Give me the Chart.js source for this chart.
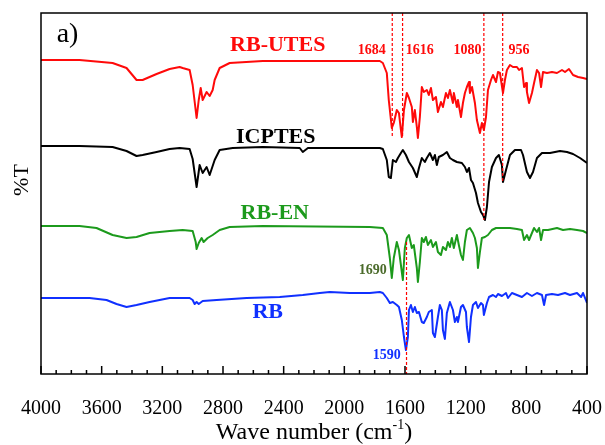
<!DOCTYPE html>
<html lang="en">

<head>
    <meta charset="UTF-8">
    <title>FTIR spectra</title>
    <style>
        body { margin: 0; background: #fff; }
    </style>
</head>

<body>
    <canvas id="ftir" width="605" height="445"></canvas>

    <script src="https://cdn.jsdelivr.net/npm/chart.js"></script>
    <script>
        // wave numbers (cm-1) and offset transmittance (a.u.)
        const rbutesWn = [4000, 3746, 3528, 3436, 3370, 3330, 3238, 3152, 3086, 3066, 3020, 3000, 2974, 2960, 2947, 2934, 2908, 2888, 2868, 2855, 2822, 2756, 2538, 2294, 1832, 1766, 1746, 1720, 1707, 1687, 1674, 1654, 1640, 1627, 1621, 1607, 1588, 1574, 1555, 1548, 1535, 1522, 1515, 1502, 1489, 1476, 1456, 1443, 1429, 1416, 1396, 1383, 1363, 1350, 1330, 1317, 1304, 1284, 1278, 1258, 1251, 1231, 1218, 1205, 1192, 1178, 1172, 1158, 1139, 1126, 1106, 1093, 1080, 1066, 1053, 1033, 1020, 1000, 987, 974, 954, 941, 928, 908, 888, 862, 848, 829, 815, 802, 796, 782, 763, 749, 730, 716, 703, 690, 664, 631, 598, 565, 545, 519, 492, 459, 426, 400];
        const rbutesT = [314, 314, 311, 306, 294, 294, 300, 305, 307, 306, 304, 289, 256, 274, 286, 274, 282, 278, 284, 294, 306, 311, 313, 313, 313, 313, 311, 301, 274, 246, 251, 264, 261, 244, 237, 264, 281, 276, 267, 252, 264, 247, 236, 257, 287, 282, 284, 279, 286, 274, 277, 262, 272, 267, 281, 276, 284, 271, 281, 267, 274, 257, 271, 281, 287, 292, 281, 287, 271, 254, 241, 251, 244, 257, 284, 294, 299, 292, 302, 301, 281, 294, 304, 309, 307, 307, 304, 306, 287, 291, 282, 271, 281, 291, 304, 301, 287, 302, 301, 302, 301, 304, 302, 305, 299, 297, 296, 295];

        const icptesWn = [4000, 3746, 3528, 3436, 3370, 3330, 3238, 3152, 3086, 3020, 3000, 2974, 2954, 2934, 2908, 2888, 2855, 2822, 2736, 2538, 2294, 2274, 2240, 1832, 1766, 1746, 1720, 1707, 1693, 1680, 1660, 1647, 1627, 1614, 1594, 1574, 1548, 1522, 1508, 1489, 1469, 1456, 1436, 1416, 1403, 1390, 1377, 1350, 1324, 1304, 1284, 1258, 1225, 1205, 1192, 1178, 1165, 1152, 1132, 1119, 1099, 1086, 1073, 1060, 1046, 1027, 1000, 981, 961, 954, 934, 908, 875, 835, 822, 796, 776, 756, 730, 697, 644, 578, 532, 492, 446, 400];
        const icptesT = [228, 228, 227, 223, 218, 219, 222, 225, 226, 225, 215, 187, 209, 201, 207, 199, 214, 224, 226, 227, 226, 222, 226, 226, 226, 225, 214, 197, 196, 214, 212, 216, 221, 224, 219, 212, 206, 197, 206, 216, 212, 216, 221, 214, 219, 209, 217, 219, 222, 216, 214, 212, 211, 207, 202, 206, 194, 191, 181, 171, 162, 159, 154, 167, 192, 207, 216, 219, 209, 192, 204, 219, 224, 224, 219, 202, 196, 202, 216, 221, 221, 223, 222, 220, 216, 211];

        const rbenWn = [4000, 3746, 3634, 3528, 3436, 3370, 3284, 3152, 3066, 3000, 2980, 2974, 2960, 2941, 2928, 2901, 2868, 2822, 2756, 2538, 1832, 1746, 1720, 1700, 1687, 1674, 1654, 1640, 1627, 1614, 1601, 1588, 1574, 1555, 1542, 1522, 1515, 1502, 1489, 1476, 1462, 1449, 1429, 1416, 1396, 1383, 1363, 1350, 1330, 1317, 1304, 1291, 1278, 1258, 1245, 1231, 1218, 1205, 1192, 1172, 1152, 1139, 1126, 1119, 1106, 1093, 1073, 1053, 1027, 1000, 961, 908, 862, 829, 815, 796, 782, 763, 749, 730, 716, 703, 690, 657, 598, 558, 512, 466, 426, 400];
        const rbenT = [148, 148, 146, 139, 136, 137, 141, 143, 144, 143, 132, 125, 131, 136, 132, 136, 139, 144, 147, 148, 147, 146, 139, 116, 96, 116, 132, 124, 109, 94, 126, 136, 139, 126, 129, 106, 92, 112, 136, 132, 137, 129, 134, 127, 132, 122, 119, 127, 124, 132, 127, 136, 126, 139, 129, 119, 114, 132, 144, 146, 141, 136, 126, 106, 122, 136, 137, 139, 144, 146, 146, 146, 145, 144, 134, 139, 134, 141, 146, 142, 146, 134, 144, 144, 146, 144, 145, 144, 143, 141];

        const rbWn = [4000, 3680, 3568, 3502, 3436, 3370, 3284, 3152, 3020, 3000, 2987, 2974, 2960, 2934, 2842, 2644, 2426, 2274, 2162, 2096, 1964, 1832, 1766, 1746, 1720, 1700, 1680, 1654, 1640, 1621, 1607, 1594, 1581, 1574, 1561, 1548, 1535, 1522, 1508, 1489, 1476, 1456, 1443, 1423, 1416, 1403, 1383, 1370, 1357, 1350, 1337, 1324, 1304, 1284, 1271, 1258, 1251, 1231, 1218, 1198, 1192, 1178, 1165, 1152, 1132, 1119, 1099, 1086, 1080, 1060, 1046, 1020, 1000, 987, 961, 934, 921, 895, 862, 829, 796, 763, 730, 697, 683, 670, 631, 591, 545, 512, 466, 439, 426, 400];
        const rbT = [76, 76, 74, 70, 67, 69, 72, 76, 76, 74, 70, 72, 70, 73, 74, 76, 77, 79, 81, 82, 81, 81, 82, 81, 76, 71, 72, 69, 67, 54, 37, 24, 37, 64, 69, 62, 67, 61, 62, 52, 51, 57, 62, 64, 41, 37, 57, 69, 64, 44, 35, 61, 72, 64, 52, 57, 52, 67, 69, 62, 47, 32, 57, 69, 72, 66, 71, 69, 59, 71, 77, 79, 77, 80, 78, 81, 76, 81, 79, 77, 81, 78, 81, 79, 69, 79, 80, 79, 81, 79, 81, 77, 81, 71];

        // marked bands: wave number, dashed line from / to (a.u.)
        const bandWn = [1684, 1616, 1080, 956, 1590];
        const bandFrom = [361, 361, 361, 361, 132];
        const bandTo = [237, 237, 154, 192, 0];

        const serif = '"Liberation Serif", "Times New Roman", serif';

        function pts(wn, t) {
            return wn.map((w, i) => ({ x: w, y: t[i] }));
        }

        const traces = [
            { label: 'RB-UTES', data: pts(rbutesWn, rbutesT), borderColor: '#ff0a0a', order: 1 },
            { label: 'ICPTES', data: pts(icptesWn, icptesT), borderColor: '#000000', order: 1 },
            { label: 'RB-EN', data: pts(rbenWn, rbenT), borderColor: '#1c9a1c', order: 1 },
            { label: 'RB', data: pts(rbWn, rbT), borderColor: '#1030ff', order: 1 }
        ];
        // dashed marker lines go on top of the spectra (lower order)
        const bands = bandWn.map((w, i) => ({
            label: 'band ' + w,
            data: [{ x: w, y: bandFrom[i] }, { x: w, y: bandTo[i] }],
            borderColor: '#ff0000',
            borderWidth: 1.2,
            borderDash: [3, 2],
            order: 0
        }));

        // text labels (placed in data coordinates)
        const notes = [
            { text: 'a)', x: 3825, y: 339, color: '#000', font: 'normal 28px ' + serif },
            { text: 'RB-UTES', x: 2439, y: 329, color: '#ff0a0a', font: 'bold 22px ' + serif },
            { text: 'ICPTES', x: 2452, y: 237, color: '#000', font: 'bold 22px ' + serif },
            { text: 'RB-EN', x: 2459, y: 161, color: '#1c9a1c', font: 'bold 22px ' + serif },
            { text: 'RB', x: 2505, y: 62, color: '#1030ff', font: 'bold 22px ' + serif },
            { text: '1684', x: 1819, y: 324, color: '#ff0a0a', font: 'bold 14px ' + serif },
            { text: '1616', x: 1502, y: 324, color: '#ff0a0a', font: 'bold 14px ' + serif },
            { text: '1080', x: 1188, y: 324, color: '#ff0a0a', font: 'bold 14px ' + serif },
            { text: '956', x: 849, y: 324, color: '#ff0a0a', font: 'bold 14px ' + serif },
            { text: '1690', x: 1812, y: 104, color: '#4b6b2b', font: 'bold 14px ' + serif },
            { text: '1590', x: 1720, y: 19, color: '#1030ff', font: 'bold 14px ' + serif }
        ];

        // frame, inward ticks, texts, axis titles
        const decor = {
            id: 'decor',
            afterDraw(chart) {
                const c = chart.ctx;
                const a = chart.chartArea;
                const xs = chart.scales.x;
                const ys = chart.scales.y;
                c.save();
                c.strokeStyle = '#000';
                c.lineWidth = 1.5;
                c.strokeRect(a.left, a.top, a.right - a.left, a.bottom - a.top);
                c.beginPath();
                for (let w = 400; w <= 4000; w += 100) {
                    const px = xs.getPixelForValue(w);
                    const len = w % 400 === 0 ? 8 : 4;
                    c.moveTo(px, a.bottom);
                    c.lineTo(px, a.bottom - len);
                }
                c.stroke();

                c.textAlign = 'center';
                c.textBaseline = 'middle';
                notes.forEach(n => {
                    c.font = n.font;
                    c.fillStyle = n.color;
                    c.fillText(n.text, xs.getPixelForValue(n.x), ys.getPixelForValue(n.y));
                });

                // x axis title with superscript
                c.fillStyle = '#000';
                const main = 'Wave number (cm';
                const sup = '-1';
                const end = ')';
                c.font = 'normal 24px ' + serif;
                const wMain = c.measureText(main).width;
                const wEnd = c.measureText(end).width;
                c.font = 'normal 14px ' + serif;
                const wSup = c.measureText(sup).width;
                let tx = (a.left + a.right) / 2 - (wMain + wSup + wEnd) / 2;
                const ty = 433;
                c.textAlign = 'left';
                c.font = 'normal 24px ' + serif;
                c.fillText(main, tx, ty);
                tx += wMain;
                c.font = 'normal 14px ' + serif;
                c.fillText(sup, tx, ty - 8);
                tx += wSup;
                c.font = 'normal 24px ' + serif;
                c.fillText(end, tx, ty);

                // y axis title
                c.textAlign = 'center';
                c.translate(22, 180);
                c.rotate(-Math.PI / 2);
                c.font = 'normal 22px ' + serif;
                c.fillText('%T', 0, 0);
                c.restore();
            }
        };

        const ctx = document.getElementById('ftir');
        const chart = new Chart(ctx, {
            type: 'line',
            data: { datasets: traces.concat(bands) },
            options: {
                responsive: false,
                animation: false,
                devicePixelRatio: 1,
                layout: { padding: { left: 41, right: 18, top: 13, bottom: 1 } },
                elements: {
                    point: { radius: 0 },
                    line: { borderWidth: 2, tension: 0, borderJoinStyle: 'round' }
                },
                scales: {
                    x: {
                        type: 'linear',
                        reverse: true,
                        min: 400,
                        max: 4000,
                        grid: { display: false, drawTicks: false },
                        border: { display: false },
                        ticks: {
                            stepSize: 400,
                            padding: 23,
                            color: '#000',
                            maxRotation: 0,
                            autoSkip: false,
                            font: { family: serif, size: 20 },
                            callback: v => String(v)
                        },
                        // edge labels fit inside the layout padding already
                        afterFit: s => { s.paddingLeft = 0; s.paddingRight = 0; }
                    },
                    y: { display: false, min: 0, max: 361 }
                },
                plugins: {
                    legend: { display: false },
                    tooltip: { enabled: false }
                }
            },
            plugins: [decor]
        });
    </script>
</body>

</html>
